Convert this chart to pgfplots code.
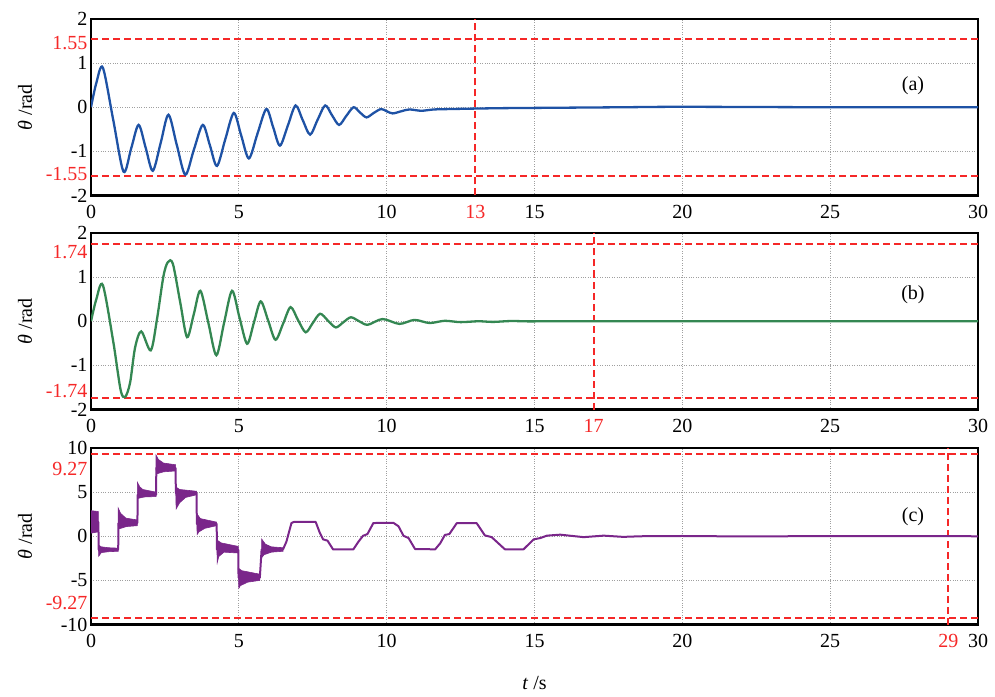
\documentclass[border=0pt]{standalone}
\usepackage{fontspec}
\setmainfont{Liberation Serif}
\usepackage{pgfplots}
\pgfplotsset{compat=1.18}

\definecolor{cblue}{RGB}{30,82,165}
\definecolor{cgreen}{RGB}{52,135,82}
\definecolor{cpurple}{RGB}{122,38,138}
\definecolor{cred}{RGB}{245,40,40}

\newcommand{\lift}[2]{\raisebox{#1}[\height][\depth]{#2}}

\tikzset{tag/.style={font=\fontsize{20}{20}\selectfont}}

\pgfplotsset{
  panel/.style={
    scale only axis, width=887pt, height=176.5pt,
    anchor=north west,
    xmin=0, xmax=30, xtick={0,5,...,30},
    grid=major,
    major grid style={gray!75, dotted, line width=0.9pt},
    axis line style={line width=2.2pt},
    tick style={draw=none},
    tick label style={font=\fontsize{20}{20}\selectfont},
    xticklabel style={yshift=-6pt},
    /pgf/number format/assume math mode=true,
    extra tick style={grid=none, tick label style={text=cred}},
    label style={font=\fontsize{20}{20}\selectfont},
    ylabel={\textit{θ} /rad},
    ylabel style={at={(axis description cs:-0.0744,0.5)}, anchor=center},
    clip=true,
  },
  refline/.style={cred, dash pattern=on 7pt off 4pt, line width=2pt, forget plot},
  trace/.style={line width=2.3pt, smooth, tension=0.5},
  band/.style={fill=cpurple, draw=cpurple, line width=0.6pt},
}

\begin{document}
\begin{tikzpicture}[x=1pt,y=1pt]
\path[use as bounding box] (0,0) rectangle (995,-696);

% (a)
\begin{axis}[panel, at={(91pt,-19pt)},
  ymin=-2, ymax=2, ytick={-2,-1,0,1,2},
  extra y ticks={-1.55,1.55},
  extra y tick labels={\lift{2pt}{-1.55},\lift{-4pt}{1.55}},
  extra x ticks={13}]
\addplot[refline] coordinates {(0,1.55) (30,1.55)};
\addplot[refline] coordinates {(0,-1.55) (30,-1.55)};
\addplot[refline] coordinates {(13,-2) (13,2)};
\addplot[cblue, trace] coordinates {
(0,0) (0.18,0.55) (0.40,0.90) (0.75,-0.28) (1.10,-1.46) (1.36,-0.93)
(1.61,-0.40) (1.85,-0.92) (2.09,-1.44) (2.36,-0.80) (2.62,-0.17)
(2.90,-0.85) (3.19,-1.53) (3.48,-0.96) (3.78,-0.40) (4.02,-0.86)
(4.26,-1.33) (4.54,-0.73) (4.83,-0.13) (5.08,-0.64) (5.34,-1.16)
(5.63,-0.60) (5.93,-0.04) (6.16,-0.45) (6.39,-0.87) (6.66,-0.41)
(6.92,0.04) (7.16,-0.29) (7.41,-0.62) (7.66,-0.29) (7.92,0.04)
(8.15,-0.18) (8.39,-0.40) (8.63,-0.20) (8.88,0.0) (9.10,-0.12)
(9.32,-0.23) (9.56,-0.13) (9.81,-0.04) (10.0,-0.09) (10.2,-0.14)
(10.5,-0.09) (10.77,-0.05) (11.17,-0.08) (11.6,-0.05) (12.2,-0.04)
(13,-0.03) (14,-0.02) (16,-0.01) (18,0.0) (20,0.01) (25,0.0) (30,0.0)};
\node[tag] at (axis cs:27.8,0.48) {(a)};
\end{axis}

% (b)
\begin{axis}[panel, at={(91pt,-233pt)},
  ymin=-2, ymax=2, ytick={-2,-1,0,1,2},
  extra y ticks={-1.74,1.74},
  extra y tick labels={\lift{7pt}{-1.74},\lift{-8pt}{1.74}},
  extra x ticks={17}]
\addplot[refline] coordinates {(0,1.74) (30,1.74)};
\addplot[refline] coordinates {(0,-1.74) (30,-1.74)};
\addplot[refline] coordinates {(17,-2) (17,2)};
\addplot[cgreen, trace] coordinates {
(0,0) (0.18,0.50) (0.40,0.82) (0.75,-0.45) (1.0,-1.55) (1.15,-1.72)
(1.32,-1.40) (1.49,-0.60) (1.70,-0.23) (2.02,-0.66) (2.23,0.04)
(2.45,1.02) (2.60,1.34) (2.77,1.30) (3.02,0.42) (3.25,-0.36)
(3.48,0.17) (3.70,0.69) (3.97,-0.04) (4.24,-0.77) (4.50,-0.04)
(4.77,0.69) (5.02,0.09) (5.28,-0.51) (5.51,-0.03) (5.74,0.45)
(5.99,0.02) (6.24,-0.42) (6.50,-0.05) (6.75,0.32) (7.0,0.03)
(7.26,-0.25) (7.5,-0.04) (7.75,0.17) (8.02,0.01) (8.28,-0.14)
(8.54,-0.02) (8.79,0.09) (9.07,0.0) (9.36,-0.08) (9.86,0.05)
(10.43,-0.06) (10.94,0.03) (11.45,-0.04) (11.96,0.01) (12.5,-0.02)
(13.1,0.0) (13.6,-0.015) (14.2,0.005) (15,-0.005) (16,0) (30,0)};
\node[tag] at (axis cs:27.8,0.6) {(b)};
\end{axis}

% (c)
\begin{axis}[panel, at={(91pt,-448pt)},
  ymin=-10, ymax=10, ytick={-10,-5,0,5,10},
  extra y ticks={-9.27,9.27},
  extra y tick labels={\lift{15pt}{-9.27},\lift{-15pt}{9.27}},
  extra x ticks={29},
  xlabel={\textit{t} /s},
  xlabel style={at={(axis description cs:0.5,0)}, anchor=center, yshift=-58pt}]
\addplot[refline] coordinates {(0,9.27) (30,9.27)};
\addplot[refline] coordinates {(0,-9.27) (30,-9.27)};
\addplot[refline] coordinates {(29,-10) (29,10)};
% oscillation envelopes
\addplot[band] coordinates {
(0,2.9) (0.25,2.8) (0.25,0.5) (0,0.35)} -- cycle;
\addplot[band] coordinates {
(0.25,-1.0) (0.35,-1.2) (0.6,-1.3) (0.92,-1.35)
(0.92,-1.7) (0.6,-1.75) (0.35,-1.85) (0.26,-2.26)} -- cycle;
\addplot[band] coordinates {
(0.92,3.2) (1.0,2.6) (1.18,2.05) (1.57,1.85)
(1.57,1.2) (1.2,1.1) (0.96,0.85) (0.92,1.2)} -- cycle;
\addplot[band] coordinates {
(1.57,6.1) (1.65,5.6) (1.75,5.3) (2.2,5.0)
(2.2,4.5) (1.8,4.45) (1.6,4.3) (1.57,4.5)} -- cycle;
\addplot[band] coordinates {
(2.2,9.2) (2.28,8.7) (2.45,8.3) (2.86,8.1)
(2.86,7.4) (2.45,7.3) (2.25,7.1) (2.2,7.5)} -- cycle;
\addplot[band] coordinates {
(2.86,5.6) (3.0,5.3) (3.57,5.1)
(3.57,4.7) (3.2,4.4) (3.0,3.8) (2.88,3.1)} -- cycle;
\addplot[band] coordinates {
(3.57,2.6) (3.7,2.0) (4.25,1.6)
(4.25,1.2) (3.85,0.9) (3.65,0.5) (3.59,0.2)} -- cycle;
\addplot[band] coordinates {
(4.25,-0.4) (4.4,-0.75) (4.98,-1.15)
(4.98,-1.9) (4.5,-1.8) (4.32,-2.3) (4.27,-3.0)} -- cycle;
\addplot[band] coordinates {
(4.98,-3.6) (5.1,-3.9) (5.71,-4.3)
(5.71,-5.0) (5.3,-5.2) (5.05,-5.6) (5.0,-5.9)} -- cycle;
\addplot[band] coordinates {
(5.77,-0.3) (5.9,-0.9) (6.1,-1.2) (6.5,-1.3)
(6.5,-1.7) (6.1,-1.8) (5.85,-2.1) (5.78,-2.4)} -- cycle;
% main trace
\addplot[cpurple, line width=2pt, line join=round] coordinates {
(0,1.6) (0.25,1.6) (0.26,-1.5) (0.92,-1.5) (0.93,1.5) (1.57,1.5)
(1.58,4.7) (2.2,4.7) (2.21,7.75) (2.86,7.75) (2.87,4.9) (3.57,4.9)
(3.58,1.4) (4.25,1.4) (4.26,-1.5) (4.98,-1.5) (4.99,-4.7) (5.71,-4.7)
(5.77,-1.5) (6.5,-1.45) (6.61,-0.6) (6.78,1.5) (6.86,1.62) (7.6,1.62)
(7.74,0.38) (7.85,-0.35) (8.0,-0.5) (8.19,-1.5) (8.87,-1.5) (9.05,-0.6)
(9.2,0.05) (9.35,0.25) (9.55,1.5) (10.23,1.52) (10.4,1.13) (10.57,0.05)
(10.74,-0.2) (10.96,-1.45) (11.64,-1.48) (11.81,-0.8) (11.97,0.15)
(12.12,0.25) (12.37,1.48) (13.04,1.5) (13.32,0.1) (13.55,-0.1)
(14.0,-1.48) (14.63,-1.48) (14.97,-0.35) (15.2,-0.2) (15.42,0.07)
(15.87,0.18) (16.66,-0.1) (17.34,0.07) (18.0,-0.07) (18.6,0)
(20,0.03) (22,-0.02) (25,0.02) (30,0)};
\node[tag] at (axis cs:27.8,2.2) {(c)};
\end{axis}
\end{tikzpicture}
\end{document}
